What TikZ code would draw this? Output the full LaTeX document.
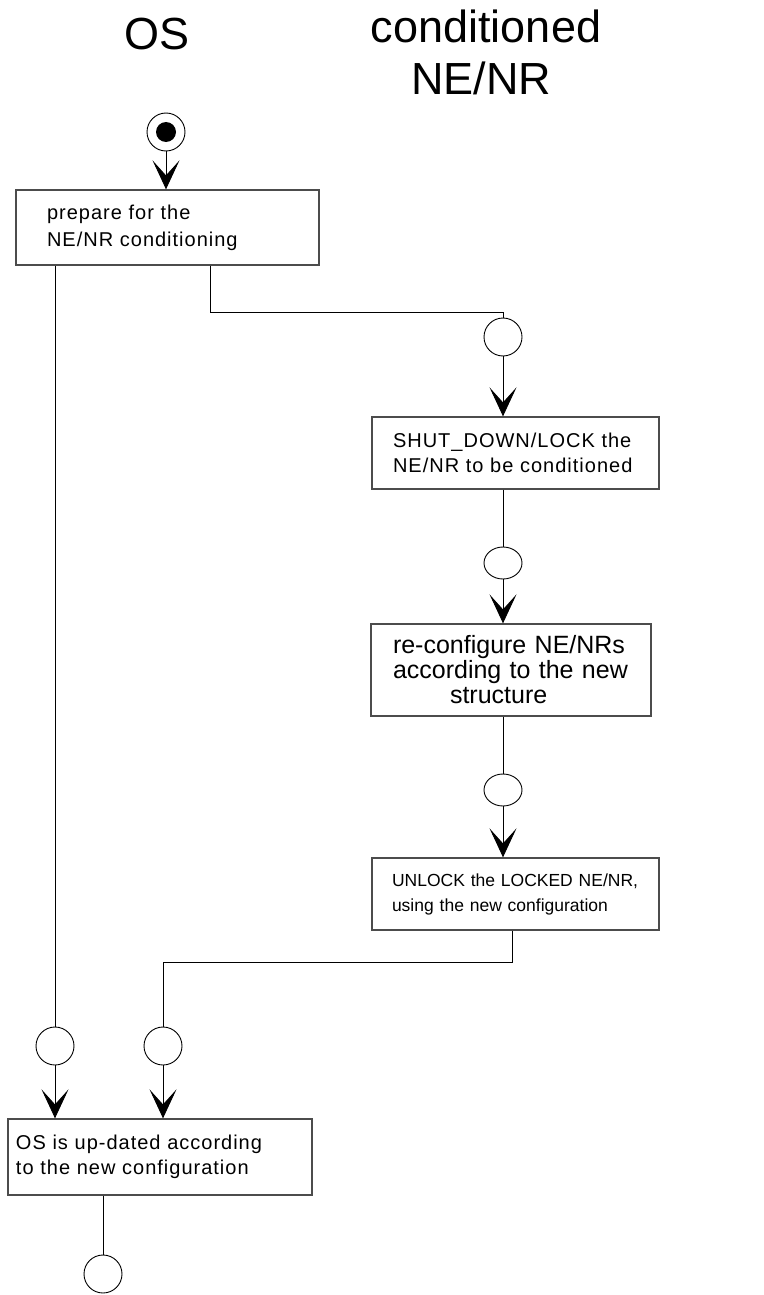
\documentclass[tikz,border=0pt]{standalone}
\usepackage{fontspec}
\setmainfont{Liberation Sans}
\newfontfamily\spaced[LetterSpace=5]{Liberation Sans}
\usetikzlibrary{arrows.meta,shapes}
\tikzstyle{heading}=[font=\fontsize{45}{52}\selectfont,inner sep=0pt,anchor=base]
\tikzstyle{activity}=[rectangle,draw=black!70,line width=1.3pt,align=left,font=\spaced\fontsize{20}{25}\selectfont]
\tikzstyle{state}=[circle,draw,line width=0.9pt,minimum size=38pt,inner sep=0pt]
\tikzstyle{wait}=[ellipse,draw,line width=0.9pt,minimum width=38pt,minimum height=32pt,inner sep=0pt]
\tikzstyle{flow}=[draw,line width=0.9pt,-{Stealth[length=29pt,width=27pt,inset=15pt]}]
\tikzstyle{link}=[draw,line width=0.9pt,-]

\begin{document}
\begin{tikzpicture}[x=1pt,y=-1pt]
    \useasboundingbox (0,0) rectangle (763,1295);
    % Lane headings
    \node[heading] (os) at (157,50) {OS};
    \node[heading] (cond) at (486,43) {conditioned};
    \node[heading] (nenr) at (481,95) {NE/NR};

    % Activities
    \node[activity,text width=241pt,inner xsep=31pt,minimum height=75pt] (prep) at (167.5,227.5) {prepare for the\\[2pt]NE/NR conditioning};
    \node[activity,text width=245pt,inner xsep=21pt,minimum height=72pt] (shut) at (515.5,453) {SHUT\_DOWN/LOCK the\\NE/NR to be conditioned};
    \node[activity,text width=236pt,inner xsep=22pt,minimum height=92pt,font=\fontsize{25}{25}\selectfont] (reconf) at (511,670) {re-configure NE/NRs\\according to the new\\\hspace*{57pt}structure};
    \node[activity,text width=247pt,inner xsep=20pt,minimum height=72pt,font=\fontsize{17.5}{25}\selectfont] (unlock) at (515.5,894) {UNLOCK the LOCKED NE/NR,\\using the new configuration};
    \node[activity,text width=288pt,inner xsep=8pt,minimum height=76pt] (upd) at (160,1157) {OS is up-dated according\\to the new configuration};

    % States
    \node[state] (start) at (166,132) {};
    \fill (start.center) circle (10pt);
    \node[state] (r1) at (503,337) {};
    \node[wait] (r2) at (503,563) {};
    \node[wait] (r3) at (503,790) {};
    \node[state] (l1) at (55,1046) {};
    \node[state] (l2) at (163,1046) {};
    \node[state] (final) at (103,1274) {};

    % Bends
    \coordinate (split) at (210,312);
    \coordinate (join) at (512,962);

    % Transitions
    \path[flow] (start) -- (start |- prep.north);
    \path[link] (l1 |- prep.south) -- (l1);
    \path[link] (split |- prep.south) -- (split) -| (r1);
    \path[flow] (r1) -- (r1 |- shut.north);
    \path[link] (r2 |- shut.south) -- (r2);
    \path[flow] (r2) -- (r2 |- reconf.north);
    \path[link] (r3 |- reconf.south) -- (r3);
    \path[flow] (r3) -- (r3 |- unlock.north);
    \path[link] (join |- unlock.south) -- (join) -| (l2);
    \path[flow] (l1) -- (l1 |- upd.north);
    \path[flow] (l2) -- (l2 |- upd.north);
    \path[link] (final |- upd.south) -- (final);
\end{tikzpicture}
\end{document}
